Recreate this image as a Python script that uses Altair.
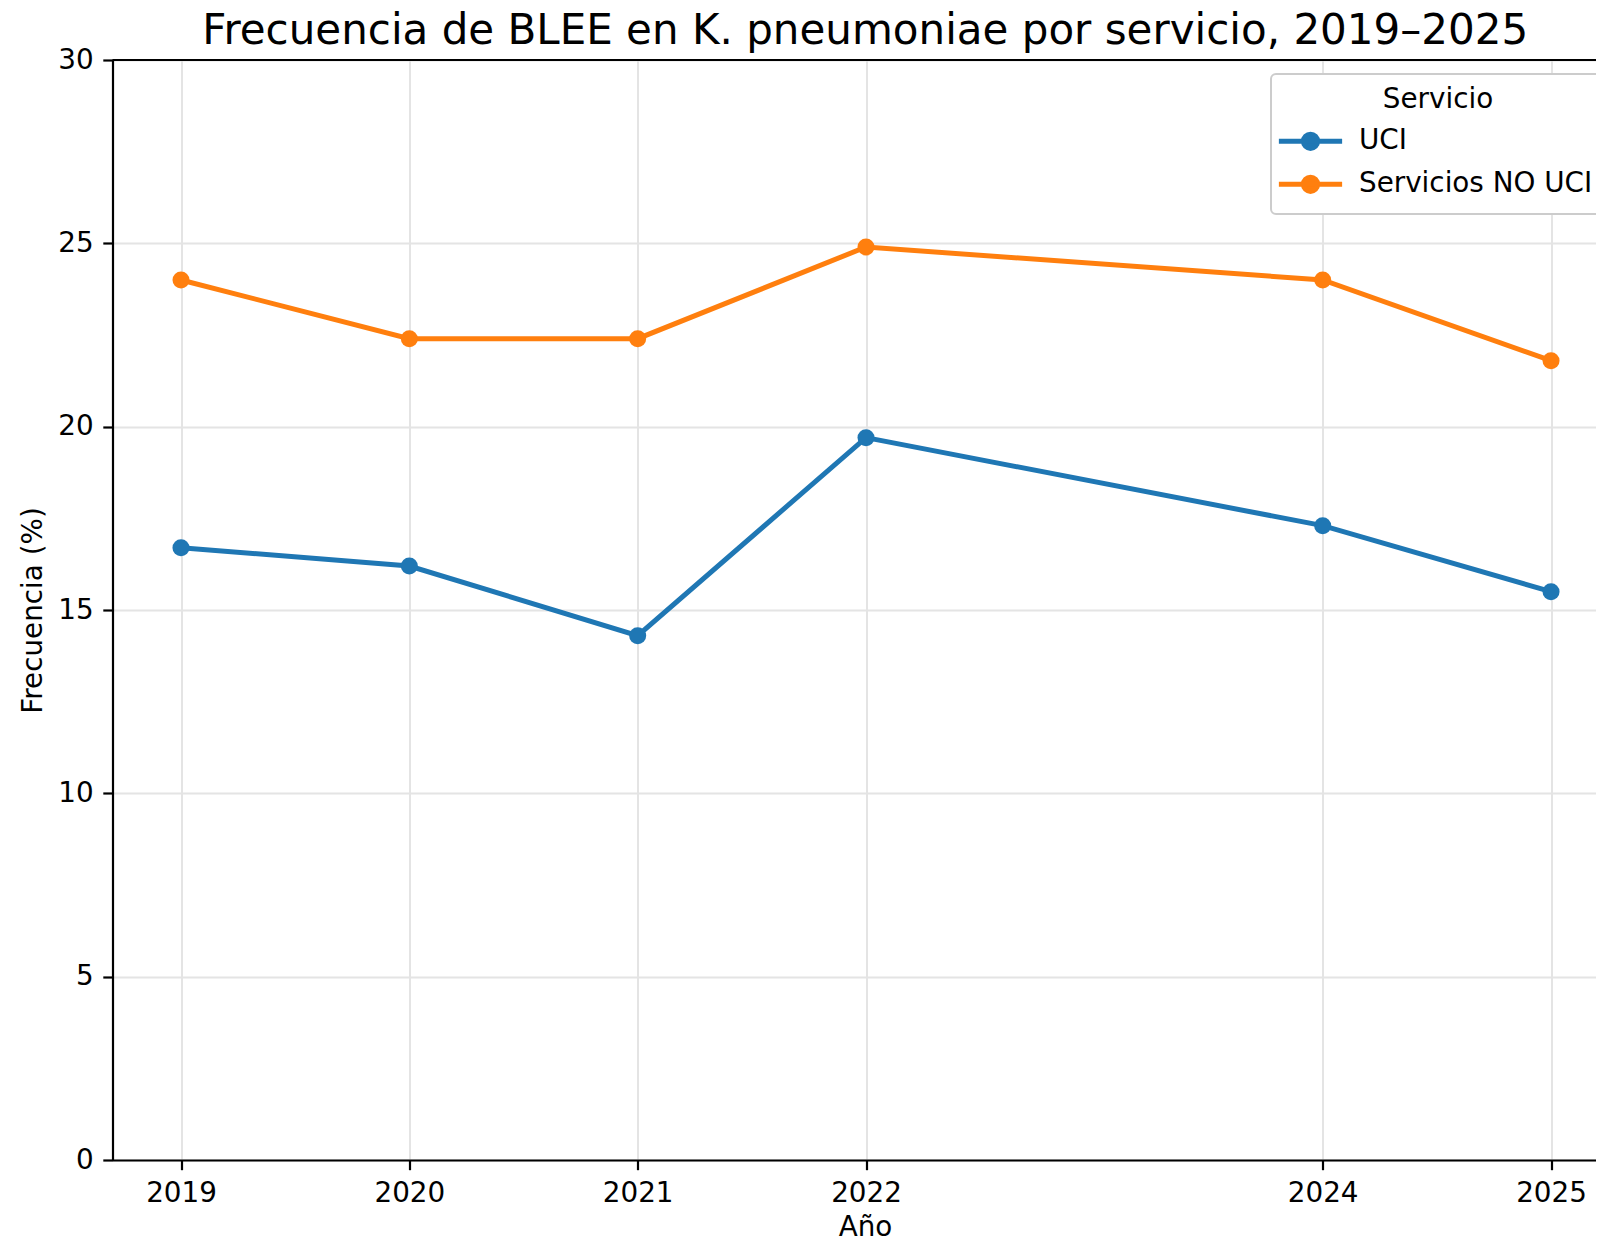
import altair as alt
import pandas as pd

years = [2019, 2020, 2021, 2022, 2024, 2025]
uci = [16.7, 16.2, 14.3, 19.7, 17.3, 15.5]
no_uci = [24.0, 22.4, 22.4, 24.9, 24.0, 21.8]
series = ["UCI", "Servicios NO UCI"]
colors = ["#1f77b4", "#ff7f0e"]
y_ticks = [0, 5, 10, 15, 20, 25, 30]

rows = []
for yr, a, b in zip(years, uci, no_uci):
    rows.append({"Año": yr, "Frecuencia": a, "Servicio": series[0]})
    rows.append({"Año": yr, "Frecuencia": b, "Servicio": series[1]})
df = pd.DataFrame(rows)

FONT = "DejaVu Sans"
FS = 27.8

color_scale = alt.Scale(domain=series, range=colors)
x_enc = alt.X("Año:Q",
              scale=alt.Scale(domain=[2018.7, 2025.197], nice=False, zero=False),
              axis=alt.Axis(values=years, format="d", title="Año", titlePadding=6,
                            titleX=752.5))
y_enc = alt.Y("Frecuencia:Q",
              scale=alt.Scale(domain=[0, 30], nice=False),
              axis=alt.Axis(values=y_ticks, title="Frecuencia (%)", titlePadding=10))

SYMBOL = ("M-2,0 L2,0 "
          "M-0.45,0 A0.45,0.45 0 1,0 0.45,0 A0.45,0.45 0 1,0 -0.45,0 Z")

legend = alt.Legend(
    title="Servicio", orient="none", legendX=1158.5, legendY=14,
    symbolType=SYMBOL, symbolSize=1000, symbolStrokeWidth=5,
    symbolOffset=9, labelOffset=30, symbolOpacity=1, labelLimit=500,
    labelFontSize=FS, titleFontSize=FS, labelFont=FONT, titleFont=FONT,
    titleFontWeight="normal", labelColor="black", titleColor="black",
    titleAnchor="middle", titleAlign="center", titlePadding=9,
    rowPadding=7, padding=12, fillColor="white", strokeColor="#cccccc",
    cornerRadius=5,
)

color_enc = alt.Color("Servicio:N", scale=color_scale, legend=legend, sort=series)

line = alt.Chart(df).mark_line(strokeWidth=5).encode(
    x=x_enc, y=y_enc, color=color_enc)
pts = alt.Chart(df).mark_point(size=290, opacity=1, filled=True, strokeWidth=5).encode(
    x=x_enc, y=y_enc, color=color_enc)

top_spine = alt.Chart(pd.DataFrame({"k": [0]})).mark_rule(
    color="black", strokeWidth=2.2).encode(y=alt.datum(30))

chart = alt.layer(line, pts, top_spine).properties(
    width=1483.5, height=1100,
    autosize=alt.AutoSizeParams(type="none"),
    padding={"left": 104.5, "top": 52, "right": 0, "bottom": 78},
    title=alt.TitleParams(
        "Frecuencia de BLEE en K. pneumoniae por servicio, 2019–2025",
        font=FONT, fontSize=42, fontWeight="normal", color="black",
        anchor="middle", offset=-7, dx=11),
).configure_view(stroke=None).configure_legend(strokeWidth=2).configure_axis(
    labelFont=FONT, titleFont=FONT, labelFontSize=FS, titleFontSize=FS,
    titleFontWeight="normal", labelColor="black", titleColor="black",
    domainColor="black", domainWidth=2.2, tickColor="black", tickWidth=2.2,
    tickSize=9.7, labelPadding=9.7, gridColor="#e4e4e4", gridWidth=2,
)

chart.save("out.html", embed_options={"renderer": "svg", "actions": False})
